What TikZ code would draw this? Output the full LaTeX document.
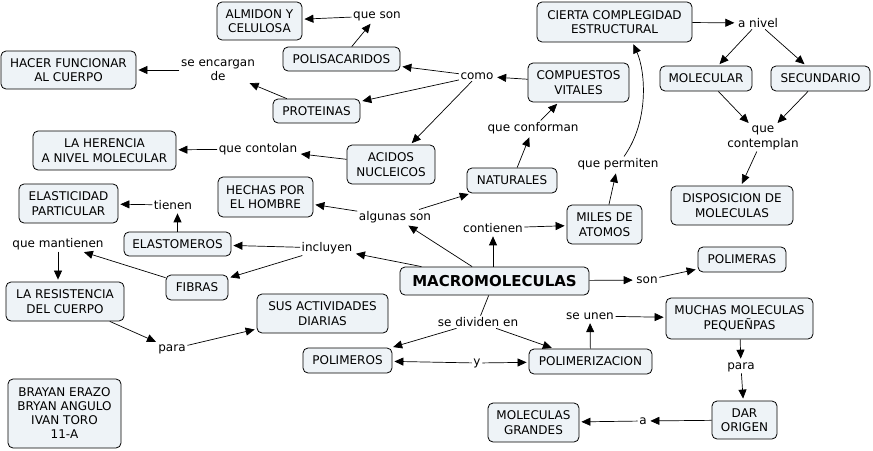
\documentclass[tikz,border=0pt]{standalone}
\usepackage{fontspec}
\setmainfont{DejaVu Sans}
\usetikzlibrary{arrows.meta}
\definecolor{boxfill}{RGB}{238,243,247}
\begin{document}
\begin{tikzpicture}[x=1pt,y=-1pt,
  font=\fontsize{12}{14.5}\selectfont,
  cbox/.style 2 args={draw=black, fill=boxfill, rounded corners=5pt, align=center,
    minimum width=#1, minimum height=#2, inner sep=0pt, line width=0.8pt},
  lbl/.style={align=center, inner sep=1.5pt},
  arr/.style={-{Triangle[length=9pt,width=8pt]}, shorten >=2pt, line width=0.7pt},
  ln/.style={line width=0.7pt}]
\useasboundingbox (0,0) rectangle (873,450);

% concepts
\node[cbox={85pt}{38pt}] (almidon) at (259.5,21) {ALMIDON Y\\CELULOSA};
\node[cbox={117pt}{24pt}] (polisac) at (341.5,59) {POLISACARIDOS};
\node[cbox={135pt}{38pt}] (hacer) at (68.5,70) {HACER FUNCIONAR\\AL CUERPO};
\node[cbox={87pt}{24pt}] (proteinas) at (316.5,111) {PROTEINAS};
\node[cbox={143pt}{39pt}] (herencia) at (104.5,150.5) {LA HERENCIA\\A NIVEL MOLECULAR};
\node[cbox={88pt}{39pt}] (acidos) at (391,164.5) {ACIDOS\\NUCLEICOS};
\node[cbox={95pt}{40pt}] (hechas) at (265.5,197) {HECHAS POR\\EL HOMBRE};
\node[cbox={99pt}{39pt}] (elasticidad) at (68.5,203.5) {ELASTICIDAD\\PARTICULAR};
\node[cbox={155pt}{40pt}] (cierta) at (614.5,22) {CIERTA COMPLEGIDAD\\ESTRUCTURAL};
\node[cbox={101pt}{39pt}] (compuestos) at (578.5,82.5) {COMPUESTOS\\VITALES};
\node[cbox={92pt}{25pt}] (molecular) at (706,78.5) {MOLECULAR};
\node[cbox={99pt}{25pt}] (secundario) at (820.5,78.5) {SECUNDARIO};
\node[cbox={90pt}{25pt}] (naturales) at (512,180.5) {NATURALES};
\node[cbox={122pt}{39pt}] (disposicion) at (732,205.5) {DISPOSICION DE\\MOLECULAS};
\node[cbox={75pt}{39pt}] (miles) at (604.5,224.5) {MILES DE\\ATOMOS};
\node[cbox={107pt}{24pt}] (elastomeros) at (177.5,244) {ELASTOMEROS};
\node[cbox={62pt}{25pt}] (fibras) at (197,287.5) {FIBRAS};
\node[cbox={118pt}{39pt}] (resistencia) at (65,301.5) {LA RESISTENCIA\\DEL CUERPO};
\node[cbox={131pt}{39pt}] (actividades) at (322.5,313.5) {SUS ACTIVIDADES\\DIARIAS};
\node[cbox={89pt}{25pt}] (polimeros) at (347.5,360.5) {POLIMEROS};
\node[cbox={113pt}{69pt}, font=\fontsize{12}{14}\selectfont] (brayan) at (64.5,413.5) {BRAYAN ERAZO\\BRYAN ANGULO\\IVAN TORO\\11-A};
\node[cbox={189pt}{28pt}, font=\fontsize{15}{18}\bfseries\selectfont] (macro) at (494.5,281) {MACROMOLECULAS};
\node[cbox={88pt}{25pt}] (polimeras) at (742,259.5) {POLIMERAS};
\node[cbox={147pt}{41pt}] (muchas) at (739.5,318.5) {MUCHAS MOLECULAS\\PEQUEÑPAS};
\node[cbox={123pt}{25pt}] (polimerizacion) at (590.5,361.5) {POLIMERIZACION};
\node[cbox={65pt}{38pt}] (dar) at (744.5,420) {DAR\\ORIGEN};
\node[cbox={91pt}{39pt}] (grandes) at (533.5,422.5) {MOLECULAS\\GRANDES};

% linking phrases
\node[lbl] (queson) at (377,16) {que son};
\node[lbl] (como) at (477,76) {como};
\node[lbl] (seencargan) at (218,70) {se encargan\\de};
\node[lbl] (quecontolan) at (258,149) {que contolan};
\node[lbl] (algunasson) at (395,217) {algunas son};
\node[lbl] (queconforman) at (533,128) {que conforman};
\node[lbl] (quepermiten) at (618,164) {que permiten};
\node[lbl] (anivel) at (758,23) {a nivel};
\node[lbl] (quecontemplan) at (763,138) {que\\contemplan};
\node[lbl] (contienen) at (493,228) {contienen};
\node[lbl] (incluyen) at (327,248) {incluyen};
\node[lbl] (tienen) at (173,205) {tienen};
\node[lbl] (quemantienen) at (58,244) {que mantienen};
\node[lbl] (para1) at (172,349) {para};
\node[lbl] (son) at (647,280) {son};
\node[lbl] (sedividen) at (478,322) {se dividen en};
\node[lbl] (y) at (477,363) {y};
\node[lbl] (seunen) at (590,316) {se unen};
\node[lbl] (para2) at (741,367) {para};
\node[lbl] (a) at (643,421) {a};

\coordinate (ciertab) at ([xshift=18pt]cierta.south);
\coordinate (permtop) at ([xshift=6pt]quepermiten.north);

% connectors
\draw[arr] (polisac) -- (queson);
\draw[arr] (queson) -- (almidon);
\draw[arr] (como) -- (polisac);
\draw[arr] (como) -- (proteinas);
\draw[arr] (como) -- (acidos);
\draw[arr] (compuestos) -- (como);
\draw[arr] (proteinas) -- (seencargan);
\draw[arr] (seencargan) -- (hacer);
\draw[arr] (acidos) -- (quecontolan);
\draw[arr] (quecontolan) -- (herencia);
\draw[arr] (macro) -- (algunasson);
\draw[arr] (algunasson) -- (hechas);
\draw[arr] (algunasson) -- (naturales);
\draw[arr] (naturales) -- (queconforman);
\draw[arr] (queconforman) -- (compuestos);
\draw[arr] (macro.north -| contienen) -- (contienen);
\draw[arr] (contienen) -- (miles);
\draw[arr] (miles) -- (quepermiten);
\draw[arr] (permtop) .. controls (650,120) and (645,70) .. (ciertab);
\draw[arr] (cierta) -- (anivel);
\draw[arr] (anivel) -- (molecular);
\draw[arr] (anivel) -- (secundario);
\draw[arr] (molecular) -- (quecontemplan);
\draw[arr] (secundario) -- (quecontemplan);
\draw[arr] (quecontemplan) -- (disposicion);
\draw[arr] (macro) -- (incluyen);
\draw[arr] (incluyen) -- (elastomeros);
\draw[arr] (incluyen) -- (fibras);
\draw[arr] (elastomeros.north) -- (elastomeros.north |- tienen.south);
\draw[arr] (tienen) -- (elasticidad);
\draw[arr] (fibras) -- (quemantienen);
\draw[arr] (quemantienen.south) -- (quemantienen.south |- resistencia.north);
\draw[arr] (resistencia) -- (para1);
\draw[arr] (para1) -- (actividades);
\draw[arr] (macro) -- (son);
\draw[arr] (son) -- (polimeras);
\draw[ln] (macro) -- (sedividen);
\draw[arr] (sedividen) -- (polimeros);
\draw[arr] (sedividen) -- (polimerizacion);
\draw[arr] (y) -- (polimeros);
\draw[arr] (y) -- (polimerizacion);
\draw[arr] (polimerizacion) -- (seunen);
\draw[arr] (seunen) -- (muchas);
\draw[arr] (muchas) -- (para2);
\draw[arr] (para2) -- (dar);
\draw[arr] (dar) -- (a);
\draw[arr] (a) -- (grandes);
\end{tikzpicture}
\end{document}
